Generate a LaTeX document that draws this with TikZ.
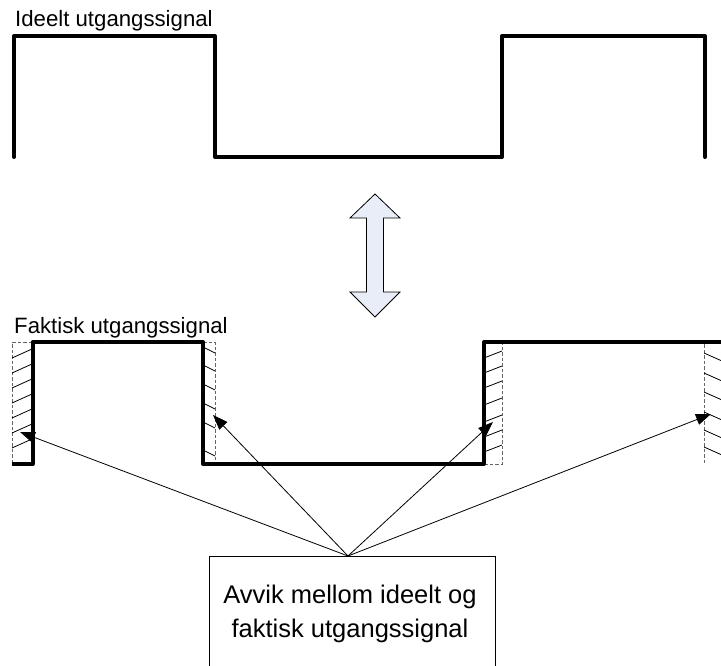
\documentclass[tikz,border=0pt]{standalone}
\usepackage{fontspec}
\setmainfont{Liberation Sans}
\usetikzlibrary{arrows.meta}
\definecolor{arrowfill}{HTML}{E8EDF7}
\tikzset{
  signal/.style={line width=4pt, line join=round},
  limit/.style={draw=black!60, line width=0.9pt, dash pattern=on 3.5pt off 2pt},
  hatch/.style={line width=0.8pt},
  pointer/.style={line width=0.8pt, -{Triangle[length=15pt,width=11pt]}},
  label/.style={font=\fontsize{22.2}{26}\selectfont, inner sep=0pt, anchor=base west},
  boxtext/.style={font=\fontsize{25.5}{30}\selectfont, inner sep=0pt, anchor=base}
}
\begin{document}
\begin{tikzpicture}[x=1pt, y=-1pt]
\useasboundingbox (0,0) rectangle (721,666);

% ideal output signal
\node[label] (ideal) at (15,27) {Ideelt utgangssignal};
\draw[signal, line cap=round] (14,157) -- (14,36) -- (215,36) -- (215,157)
  -- (502,157) -- (502,36) -- (705,36) -- (705,157);

% double arrow between the two signals
\draw[fill=arrowfill, line width=0.8pt, line join=miter]
  (375,194) -- (400,218) -- (383.5,218) -- (383.5,292) -- (400,292) -- (375,317)
  -- (350,292) -- (366.5,292) -- (366.5,218) -- (350,218) -- cycle;

% actual output signal
\node[label] (actual) at (14,333) {Faktisk utgangssignal};

% dashed limits of the ideal edges
\draw[limit] (32,342) -- (12,342) -- (12,464) -- (32,464);
\draw[limit] (203,342) -- (215,342) -- (215,464) -- (203,464);
\draw[limit] (484,464) -- (502,464) -- (502,342);
\draw[limit] (704,344) -- (704,464);

% hatching of the deviation areas
\foreach \y in {358,373,388,403,418,433,448}
  \draw[hatch] (12,\y) -- (32,\y-9);
\foreach \y in {347,365,384,403,422,450}
  \draw[hatch] (203,\y) -- (215,\y+6);
\foreach \y in {358,373,388,405,422,437,452}
  \draw[hatch] (484,\y) -- (502,\y-7);
\foreach \y in {353,373,392,412,430,447}
  \draw[hatch] (704,\y) -- (722,\y+8);

\draw[signal] (12,464) -- (32.5,464) -- (32.5,342) -- (203,342) -- (203,464)
  -- (484,464) -- (484,342) -- (722,342);

% explanation box and its pointers
\node[draw, line width=0.8pt, anchor=north west, minimum width=286pt,
  minimum height=140pt, inner sep=0pt] (box) at (209,556) {};
\node[boxtext] (line1) at (350,603) {Avvik mellom ideelt og};
\node[boxtext] (line2) at (350,637) {faktisk utgangssignal};

\coordinate (apex) at (348,556);
\coordinate (t1) at (20,432);
\coordinate (t2) at (213,415);
\coordinate (t3) at (493,422);
\coordinate (t4) at (711,414);
\foreach \t in {t1,t2,t3,t4}
  \draw[pointer] (apex) -- (\t);
\end{tikzpicture}
\end{document}
